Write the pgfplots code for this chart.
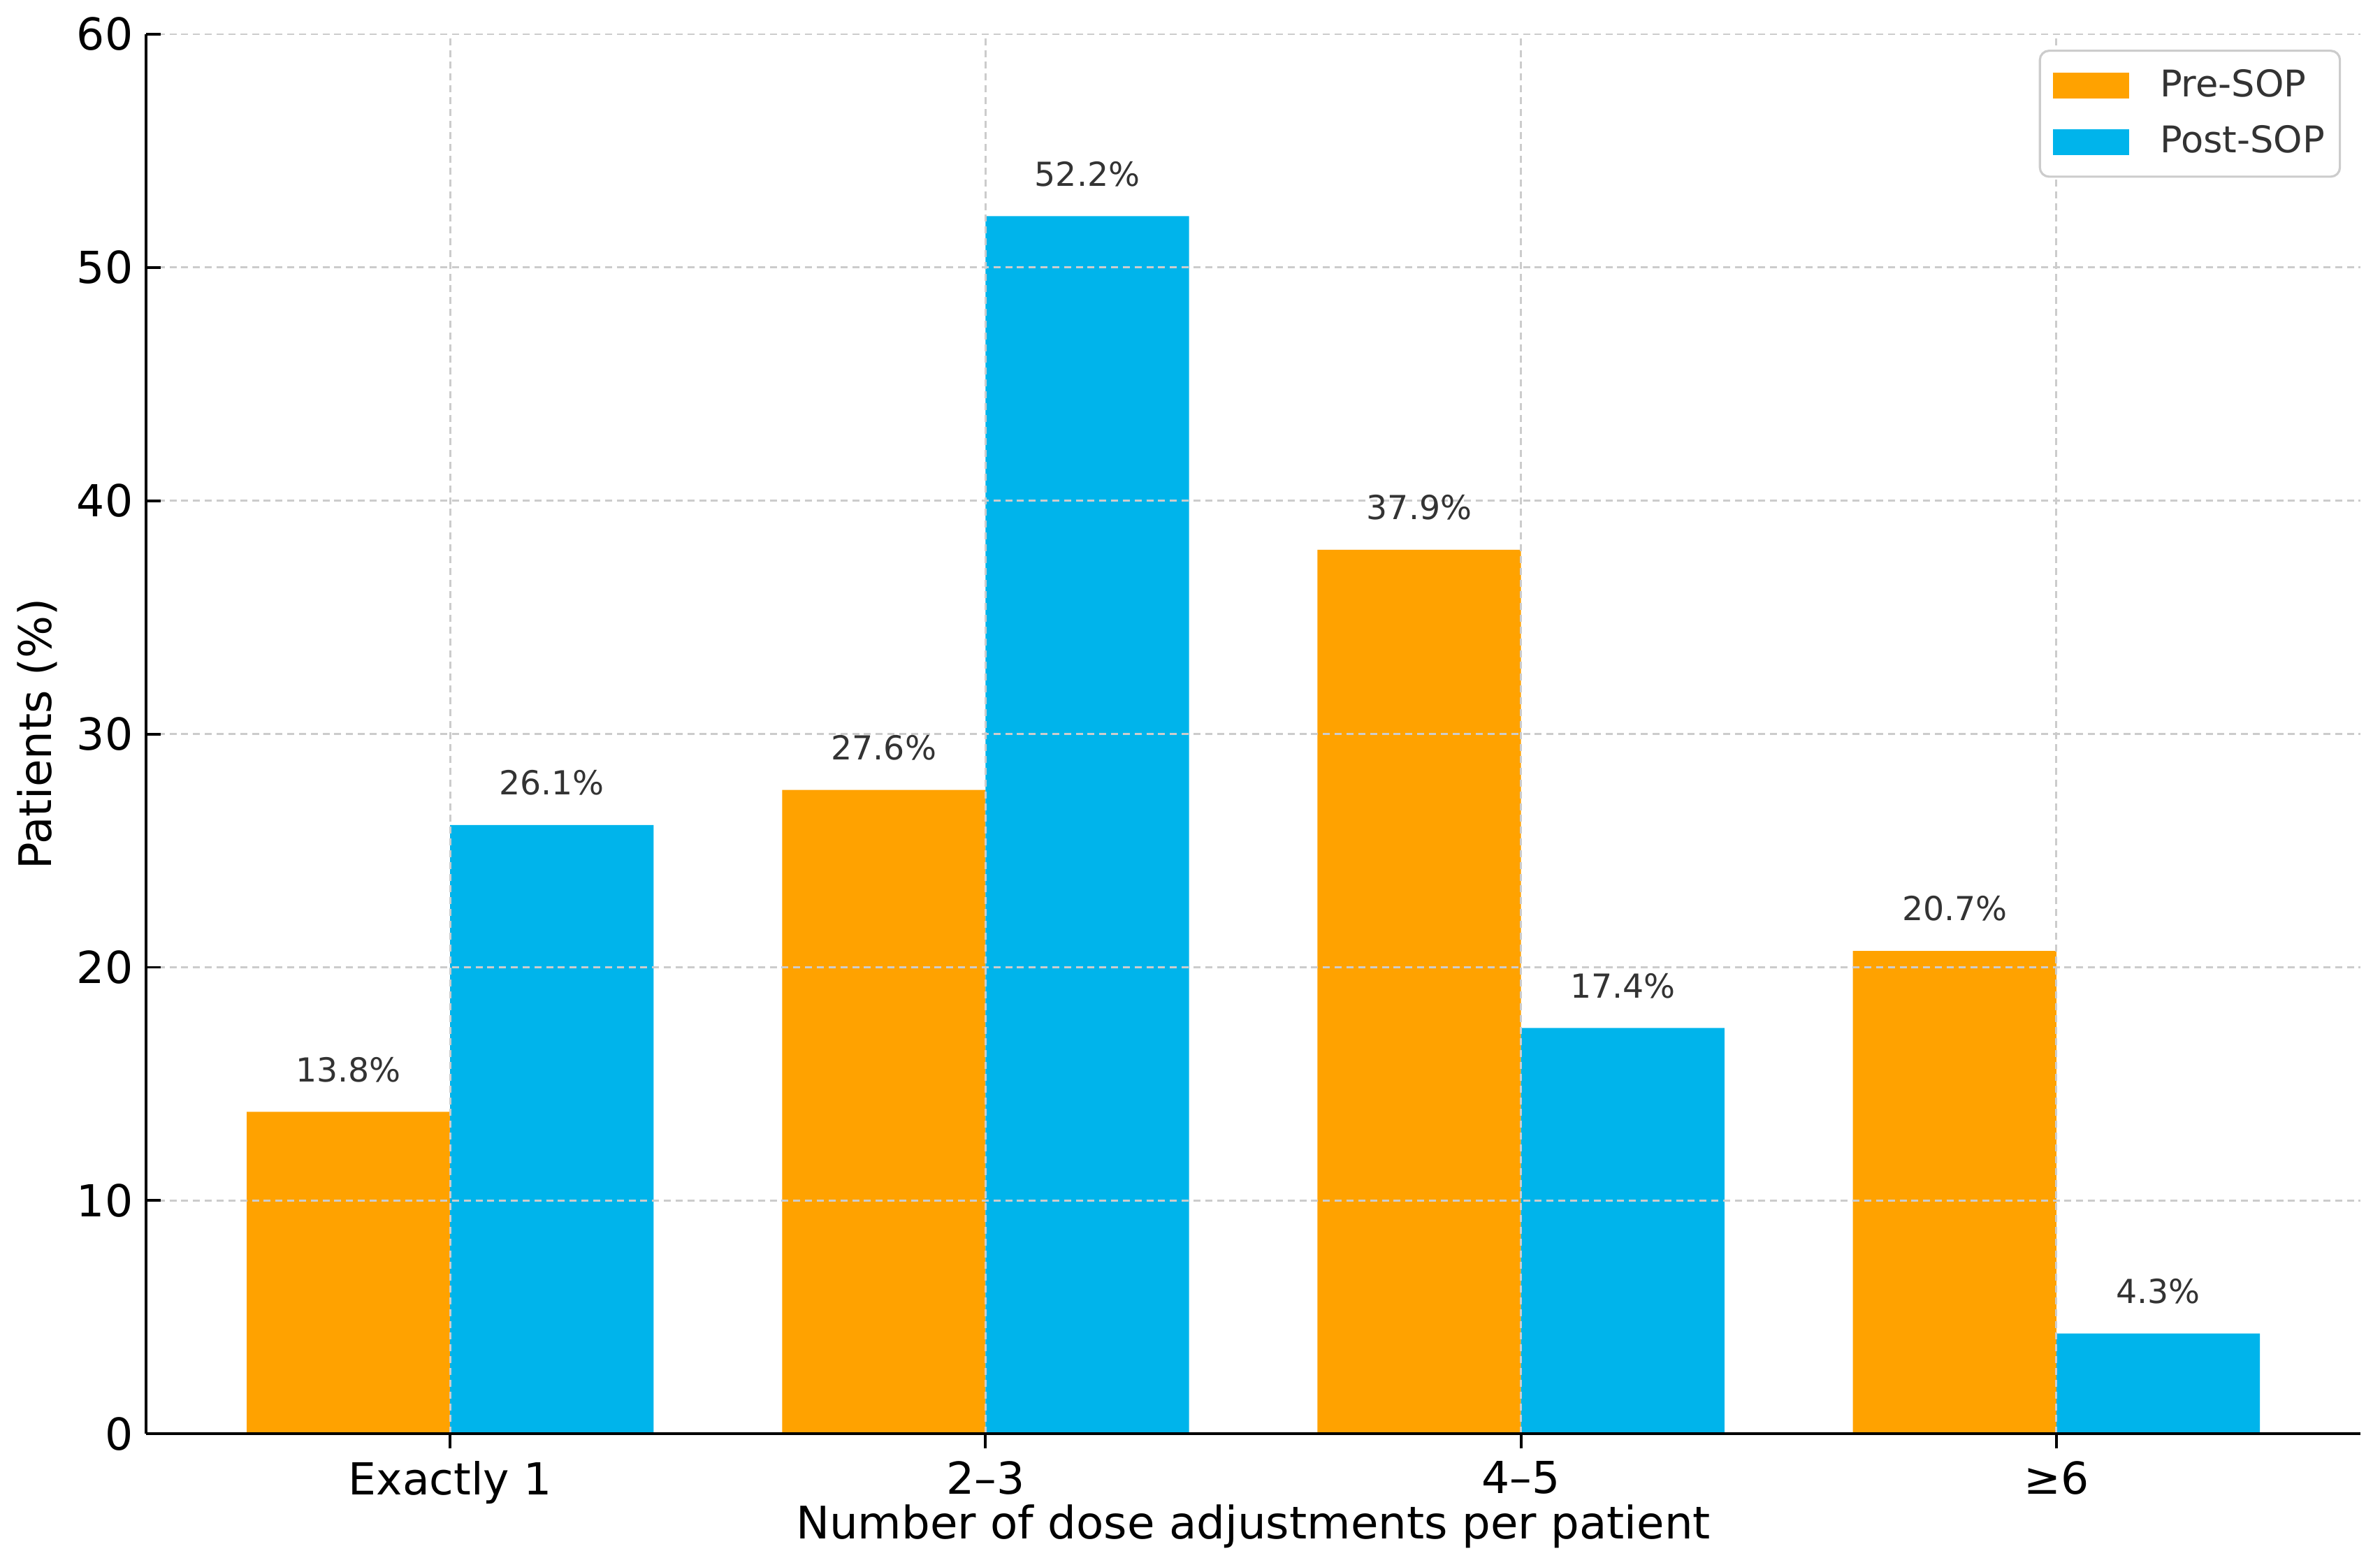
\documentclass[border=0pt]{standalone}
\usepackage{fontspec}
\setmainfont{DejaVu Sans}
\usepackage{pgfplots}
\pgfplotsset{compat=1.18}
\definecolor{preC}{HTML}{FFA200}
\definecolor{postC}{HTML}{00B4EB}
\definecolor{gridC}{HTML}{CCCCCC}
\definecolor{lblC}{HTML}{333333}
\begin{document}
\begin{tikzpicture}
\path[use as bounding box] (-39.7pt,-35.5pt) rectangle (607.4pt,389.9pt);
\begin{axis}[
  at={(0,0)}, anchor=south west,
  scale only axis,
  width=602.1pt, height=380.6pt,
  xmin=-0.568, xmax=3.568,
  ymin=0, ymax=60,
  ytick={0,10,20,30,40,50,60},
  xtick={0,1,2,3},
  xticklabels={Exactly 1, 2–3, 4–5, ≥6},
  axis lines=left,
  axis line style={-, line width=0.75pt, black},
  tick align=inside,
  major tick length=4pt,
  tick style={line width=0.75pt, black},
  ticklabel style={font=\fontsize{12}{14}\selectfont, text=black},
  /pgf/number format/assume math mode=true,
  grid=major,
  major grid style={gridC, line width=0.55pt, dash pattern=on 1.9pt off 1.3pt},
  axis on top,
  ybar,
  bar width=0.38,
  xlabel={Number of dose adjustments per patient},
  ylabel={Patients (\%)},
  label style={font=\fontsize{12.2}{14}\selectfont},
  xlabel style={at={(axis description cs:0.5,-0.0749)}, anchor=base},
  ylabel style={at={(axis description cs:-0.04285,0.5)}, anchor=base, rotate=0},
  legend style={at={(1,1)}, anchor=north east, xshift=-5.3pt, yshift=-4.2pt,
    draw=gridC, line width=0.6pt, rounded corners=2.5pt,
    font=\fontsize{10}{12}\selectfont, text=lblC,
    inner xsep=2.15pt, inner ysep=3pt, row sep=2.4pt,
    /tikz/every odd column/.append style={column sep=6.3pt}},
  legend cell align=left,
  legend image code/.code={\fill[#1, sharp corners] (0pt,-3.5pt) rectangle (20.7pt,3.5pt); \path (-1.5pt,0pt);},
  nodes near coords={\pgfmathprintnumber[fixed,fixed zerofill,precision=1,assume math mode=true]{\pgfplotspointmeta}\%},
  every node near coord/.append style={font=\fontsize{9.0}{11}\selectfont, text=lblC, anchor=base, yshift=8.2pt},
]
\addplot[fill=preC, draw=none, bar shift=-0.19] coordinates {(0,13.8) (1,27.6) (2,37.9) (3,20.7)};
\addlegendentry{Pre-SOP}
\addplot[fill=postC, draw=none, bar shift=0.19] coordinates {(0,26.1) (1,52.2) (2,17.4) (3,4.3)};
\addlegendentry{Post-SOP}
\end{axis}
\end{tikzpicture}
\end{document}
